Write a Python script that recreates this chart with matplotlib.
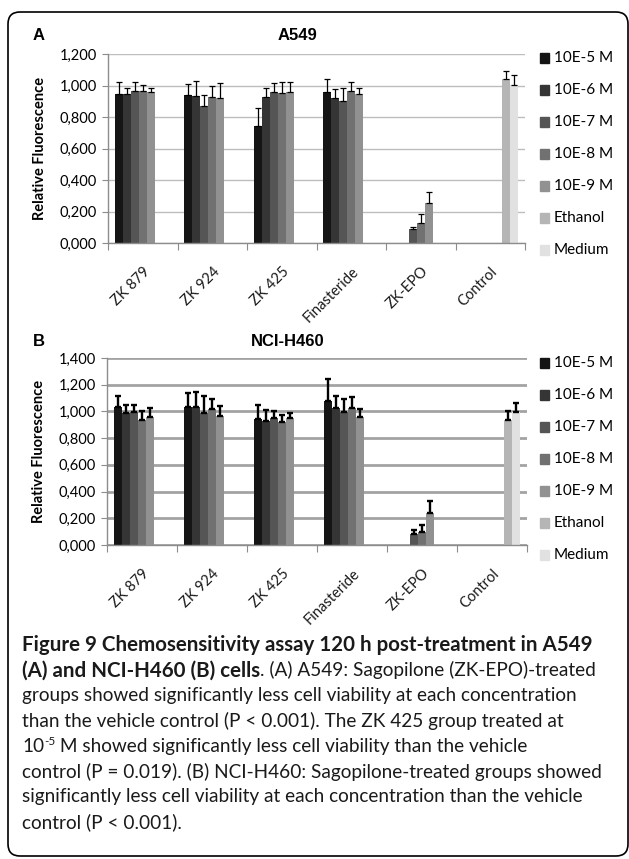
import numpy as np
import matplotlib
matplotlib.use("Agg")
import matplotlib.pyplot as plt
from matplotlib.patches import FancyBboxPatch, Rectangle
from matplotlib.transforms import ScaledTranslation

nan = np.nan

categories = ["ZK 879", "ZK 924", "ZK 425", "Finasteride", "ZK-EPO", "Control"]
series = ["10E-5 M", "10E-6 M", "10E-7 M", "10E-8 M", "10E-9 M", "Ethanol", "Medium"]
colors = ["#151515", "#353535", "#555555", "#717171", "#919191", "#b5b5b5", "#e1e1e1"]

# --- panel A: A549 (one list per series, one value per category) ---
a549_5 = [0.943, 0.940, 0.743, 0.960, nan, nan]
a549_6 = [0.947, 0.934, 0.928, 0.920, nan, nan]
a549_7 = [0.968, 0.867, 0.956, 0.900, 0.091, nan]
a549_8 = [0.966, 0.928, 0.951, 0.963, 0.130, nan]
a549_9 = [0.958, 0.922, 0.960, 0.945, 0.255, nan]
a549_eth = [nan, nan, nan, nan, nan, 1.039]
a549_med = [nan, nan, nan, nan, nan, 1.003]

a549_err5 = [0.078, 0.067, 0.116, 0.080, nan, nan]
a549_err6 = [0.038, 0.093, 0.057, 0.060, nan, nan]
a549_err7 = [0.053, 0.070, 0.059, 0.085, 0.008, nan]
a549_err8 = [0.036, 0.066, 0.074, 0.062, 0.055, nan]
a549_err9 = [0.027, 0.093, 0.065, 0.040, 0.071, nan]
a549_err_eth = [nan, nan, nan, nan, nan, 0.055]
a549_err_med = [nan, nan, nan, nan, nan, 0.064]

# --- panel B: NCI-H460 ---
h460_5 = [1.035, 1.030, 0.943, 1.080, nan, nan]
h460_6 = [0.990, 1.035, 0.930, 1.025, nan, nan]
h460_7 = [0.995, 0.985, 0.948, 0.993, 0.082, nan]
h460_8 = [0.938, 1.015, 0.920, 1.025, 0.100, nan]
h460_9 = [0.955, 0.968, 0.948, 0.955, 0.240, nan]
h460_eth = [nan, nan, nan, nan, nan, 0.935]
h460_med = [nan, nan, nan, nan, nan, 0.995]

h460_err5 = [0.077, 0.108, 0.107, 0.163, nan, nan]
h460_err6 = [0.055, 0.112, 0.080, 0.087, nan, nan]
h460_err7 = [0.055, 0.127, 0.052, 0.097, 0.028, nan]
h460_err8 = [0.062, 0.078, 0.053, 0.080, 0.050, nan]
h460_err9 = [0.070, 0.072, 0.042, 0.063, 0.090, nan]
h460_err_eth = [nan, nan, nan, nan, nan, 0.070]
h460_err_med = [nan, nan, nan, nan, nan, 0.068]

a549_vals = [a549_5, a549_6, a549_7, a549_8, a549_9, a549_eth, a549_med]
a549_errs = [a549_err5, a549_err6, a549_err7, a549_err8, a549_err9, a549_err_eth, a549_err_med]
h460_vals = [h460_5, h460_6, h460_7, h460_8, h460_9, h460_eth, h460_med]
h460_errs = [h460_err5, h460_err6, h460_err7, h460_err8, h460_err9, h460_err_eth, h460_err_med]

W, H = 629, 859
CHART_FONT = ["Lato", "DejaVu Sans"]
fig = plt.figure(figsize=(W / 100, H / 100), dpi=100)


def fx(x):
    return x / W


def fy(y):
    return 1 - y / H


def draw_panel(rect, vals, errs, ymax, title, letter, title_x, title_y,
               grid_color, grid_lw, err_lw, legend_y):
    ax = fig.add_axes([fx(rect[0]), fy(rect[3]), fx(rect[2] - rect[0]), (rect[3] - rect[1]) / H])
    x = np.arange(len(categories))
    bw = 0.115
    for j, (v, e) in enumerate(zip(vals, errs)):
        pos = x + (j - 3) * bw
        v = np.array(v, dtype=float)
        e = np.array(e, dtype=float)
        ax.bar(pos, v, width=bw, color=colors[j], edgecolor="none", zorder=2)
        ax.errorbar(pos, v, yerr=[np.zeros_like(e), e], fmt="none", ecolor="black",
                    elinewidth=err_lw, capsize=2.4, capthick=err_lw, zorder=3)
    ax.set_xlim(-0.5, len(categories) - 0.5)
    ax.set_ylim(0, ymax)
    yt = np.arange(0, ymax + 0.001, 0.2)
    ax.set_yticks(yt)
    ax.set_yticklabels([f"{t:.3f}".replace(".", ",") for t in yt],
                       fontsize=10.5, family=CHART_FONT)
    ax.set_xticks(np.arange(-0.5, len(categories)))
    ax.set_xticklabels([])
    # category names, rotated, hanging below each group
    lab_tr = ax.get_xaxis_transform() + ScaledTranslation(8 / 100, -29 / 100, fig.dpi_scale_trans)
    for i, name in enumerate(categories):
        ax.text(i, 0, name, transform=lab_tr, rotation=45, ha="right", va="baseline",
                rotation_mode="anchor", fontsize=10.5, family=CHART_FONT, color="#1a1a1a")
    ax.tick_params(axis="x", length=5, color="#8c8c8c")
    ax.tick_params(axis="y", length=4, color="#8c8c8c", pad=4)
    ax.yaxis.grid(True, color=grid_color, linewidth=grid_lw)
    ax.set_axisbelow(True)
    for s in ["top", "right"]:
        ax.spines[s].set_visible(False)
    for s in ["left", "bottom"]:
        ax.spines[s].set_color("#8c8c8c")
        ax.spines[s].set_linewidth(1.0)
    ax.set_ylabel("Relative Fluorescence", fontsize=10.5, fontweight="bold",
                  family=CHART_FONT, labelpad=9)
    fig.text(fx(title_x), fy(title_y), title, ha="center", va="center",
             fontsize=12, fontweight="bold", family="Liberation Sans")
    fig.text(fx(33), fy(title_y), letter, ha="left", va="center",
             fontsize=12, fontweight="bold", family="Liberation Sans")
    # legend, one row per series
    for j, name in enumerate(series):
        yy = legend_y + j * 32
        fig.patches.append(Rectangle((fx(540), fy(yy + 5)), fx(9), 10 / H,
                                     transform=fig.transFigure, color=colors[j]))
        fig.text(fx(554), fy(yy), name, ha="left", va="center", fontsize=11,
                 family=CHART_FONT)
    return ax


draw_panel((108, 54, 525, 243), a549_vals, a549_errs, 1.2, "A549", "A", 297, 35,
           "#bdbdbd", 1.0, 0.9, 58)
draw_panel((107, 358, 527, 545), h460_vals, h460_errs, 1.4, "NCI-H460", "B", 288, 342,
           "#a3a3a3", 2.0, 1.7, 363)

# rounded frame around the whole figure
frame = FancyBboxPatch((0.08, 0.03), 6.20, 8.44, boxstyle="round,pad=0,rounding_size=0.12",
                       transform=fig.dpi_scale_trans, facecolor="none",
                       edgecolor="black", linewidth=1.2)
fig.patches.append(frame)

# caption, drawn run by run so bold and plain text can share a line
CAP_FONT = ["Lato", "DejaVu Sans"]
CAP_SIZE = 13.7
BOLD_SIZE = 14.8
renderer = fig.canvas.get_renderer()


def runs(y, parts):
    x = 22.0
    for txt, weight, size, dy in parts:
        t = fig.text(fx(x), fy(y + dy), txt, ha="left", va="center", fontsize=size,
                     fontweight=weight, family=CAP_FONT, color="#1a1a1a")
        x = t.get_window_extent(renderer).x1


caption = [
    [("Figure 9 Chemosensitivity assay 120 h post-treatment in A549", "bold", BOLD_SIZE, 0)],
    [("(A) and NCI-H460 (B) cells", "bold", BOLD_SIZE, 0),
     (". (A) A549: Sagopilone (ZK-EPO)-treated", "normal", CAP_SIZE, 0)],
    [("groups showed significantly less cell viability at each concentration", "normal", CAP_SIZE, 0)],
    [("than the vehicle control (P < 0.001). The ZK 425 group treated at", "normal", CAP_SIZE, 0)],
    [("10", "normal", CAP_SIZE, 0), ("-5", "normal", 8.5, -5),
     (" M showed significantly less cell viability than the vehicle", "normal", CAP_SIZE, 0)],
    [("control (P = 0.019). (B) NCI-H460: Sagopilone-treated groups showed", "normal", CAP_SIZE, 0)],
    [("significantly less cell viability at each concentration than the vehicle", "normal", CAP_SIZE, 0)],
    [("control (P < 0.001).", "normal", CAP_SIZE, 0)],
]
for i, parts in enumerate(caption):
    runs(645 + i * 25.3, parts)

fig.savefig("out.png", dpi=100)
